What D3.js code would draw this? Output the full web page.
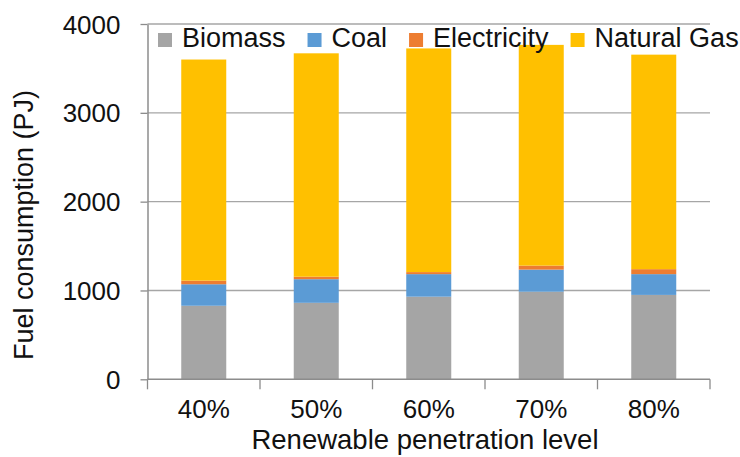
<!DOCTYPE html>
<html>
<head>
<meta charset="utf-8">
<script src="https://cdn.jsdelivr.net/npm/d3@7"></script>
<style>
  html, body { margin: 0; padding: 0; background: #fff; }
  svg { display: block; font-family: "Liberation Sans", Arial, sans-serif; }
</style>
</head>
<body>
<svg id="chart" width="740" height="457"></svg>
<script>
// Fuel consumption by renewable penetration level (PJ)
const categories = ["40%", "50%", "60%", "70%", "80%"];
const seriesNames = ["Biomass", "Coal", "Electricity", "Natural Gas"];
const biomass     = [828, 861, 930, 986, 950];
const coal        = [242, 266, 254, 249, 234];
const electricity = [41, 28, 23, 45, 56];
const naturalGas  = [2489, 2515, 2518, 2485, 2415];
const yTicks = [0, 1000, 2000, 3000, 4000];
const colors = ["#A5A5A5", "#5B9BD5", "#ED7D31", "#FFC000"];

const rows = categories.map((c, i) => ({
  level: c,
  "Biomass": biomass[i],
  "Coal": coal[i],
  "Electricity": electricity[i],
  "Natural Gas": naturalGas[i]
}));

const svg = d3.select("#chart");
const plotLeft = 147.5, plotRight = 710, plotTop = 24, plotBottom = 379.3;

const x = d3.scaleBand().domain(categories).range([plotLeft, plotRight])
  .paddingInner(0.6).paddingOuter(0.3);
const y = d3.scaleLinear().domain([0, 4000]).range([plotBottom, plotTop]);
const color = d3.scaleOrdinal().domain(seriesNames).range(colors);

// horizontal gridlines
svg.append("g").selectAll("line").data(yTicks.filter(d => d > 0)).join("line")
  .attr("x1", plotLeft).attr("x2", plotRight)
  .attr("y1", d => y(d)).attr("y2", d => y(d))
  .attr("stroke", "#a6a6a6").attr("stroke-width", 1.3);

// stacked bars
const stacked = d3.stack().keys(seriesNames)(rows);
svg.append("g").selectAll("g").data(stacked).join("g")
  .attr("fill", d => color(d.key))
  .selectAll("rect").data(d => d).join("rect")
  .attr("x", d => x(d.data.level))
  .attr("width", x.bandwidth())
  .attr("y", d => y(d[1]))
  .attr("height", d => y(d[0]) - y(d[1]));

// y axis
const yAxis = svg.append("g").attr("transform", `translate(${plotLeft},0)`)
  .call(d3.axisLeft(y).tickValues(yTicks).tickFormat(d3.format("d"))
    .tickSize(7).tickSizeOuter(0).tickPadding(20));
yAxis.select(".domain").attr("stroke", "#8c8c8c").attr("stroke-width", 1.5);
yAxis.selectAll(".tick line").attr("stroke", "#8c8c8c").attr("stroke-width", 1.3);
yAxis.selectAll(".tick text").attr("font-size", 26).attr("fill", "#111")
  .attr("font-family", "'Liberation Sans', Arial, sans-serif").attr("dy", "0.35em");

// x axis: baseline, boundary ticks between categories, labels at band centres
const xg = svg.append("g");
xg.append("line").attr("x1", plotLeft).attr("x2", plotRight)
  .attr("y1", plotBottom).attr("y2", plotBottom)
  .attr("stroke", "#8c8c8c").attr("stroke-width", 1.5);
const boundaries = d3.range(categories.length + 1).map(i => plotLeft + i * x.step());
xg.selectAll("line.tick").data(boundaries).join("line").attr("class", "tick")
  .attr("x1", d => d).attr("x2", d => d)
  .attr("y1", plotBottom).attr("y2", plotBottom + 10)
  .attr("stroke", "#8c8c8c").attr("stroke-width", 1.3);
xg.selectAll("text").data(categories).join("text")
  .attr("x", d => x(d) + x.bandwidth() / 2)
  .attr("y", 418)
  .attr("text-anchor", "middle")
  .attr("font-size", 26).attr("fill", "#111")
  .text(d => d);

// axis titles
svg.append("text")
  .attr("x", 425).attr("y", 449)
  .attr("text-anchor", "middle")
  .attr("font-size", 27.5).attr("fill", "#111")
  .text("Renewable penetration level");
svg.append("text")
  .attr("transform", "translate(33,225) rotate(-90)")
  .attr("text-anchor", "middle")
  .attr("font-size", 27).attr("fill", "#111")
  .text("Fuel consumption (PJ)");

// legend
const legend = svg.append("g");
let lx = 158;
seriesNames.forEach((name, i) => {
  legend.append("rect").attr("x", lx).attr("y", 33)
    .attr("width", 14).attr("height", 14).attr("fill", colors[i]);
  const t = legend.append("text").attr("x", lx + 24).attr("y", 47)
    .attr("font-size", 27).attr("fill", "#111").text(name);
  lx = lx + 24 + t.node().getComputedTextLength() + 22;
});
</script>
</body>
</html>
